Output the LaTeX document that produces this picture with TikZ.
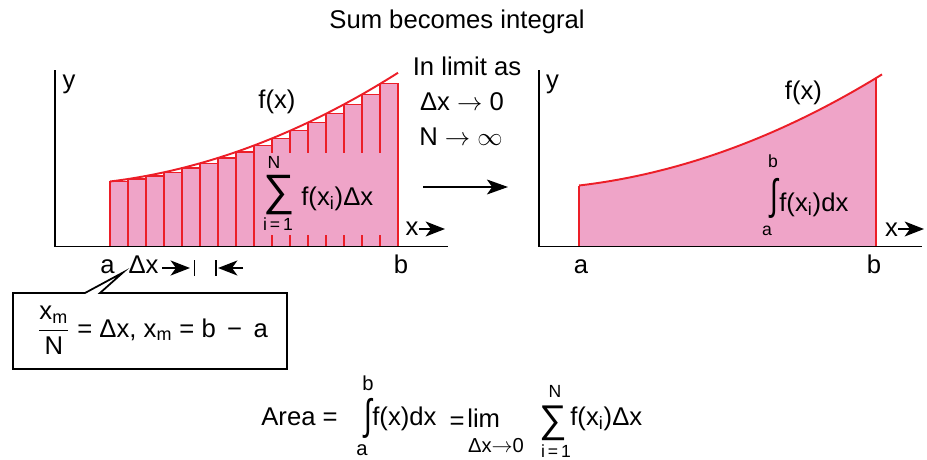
\documentclass[tikz,border=0pt]{standalone}
\usepackage{fontspec}
\setmainfont{Liberation Sans}
\usetikzlibrary{arrows.meta}

\definecolor{barpink}{RGB}{239,164,200}
\definecolor{curvered}{RGB}{236,30,40}

\begin{document}
\begin{tikzpicture}[
        x=0.02cm, y=-0.02cm,
        declare function={hl(\t)=65+0.1226*\t+0.000885*\t*\t; hr(\t)=61+0.117*\t+0.00082*\t*\t;},
        txt/.style={font=\fontsize{14.6}{17}\selectfont, inner sep=0pt},
        limtxt/.style={font=\fontsize{10}{12}\selectfont, inner sep=0pt},
        biglim/.style={font=\fontsize{11.5}{13}\selectfont, inner sep=0pt},
        sumsign/.style={font=\fontsize{25}{27}\selectfont, inner sep=0pt},
        intsign/.style={font=\fontsize{14.6}{17}\selectfont, inner sep=0pt},
        axis/.style={line width=1pt},
        bar/.style={draw=curvered, fill=barpink, line width=0.7pt},
        curve/.style={draw=curvered, line width=1.1pt},
        pointer/.style={-{Stealth[length=11pt, width=8.5pt, inset=3pt]}, line width=1.2pt}
    ]
    \useasboundingbox (0,0) rectangle (927,460);

    % Title
    \node[txt, anchor=base] (title) at (457,28) {Sum becomes integral};

    % Left diagram - sum of strips
    \foreach \i in {0,...,15}{
        \pgfmathsetmacro{\barx}{18*\i}
        \draw[bar] ({110+\barx},246.5) rectangle ({128+\barx},{246.5-hl(\barx)});
    }
    \fill[barpink] (256,153) rectangle (396,235);
    \draw[curve] plot[domain=0:288, samples=50] ({110+\x},{246.5-hl(\x)});
    \draw[axis] (55,70) -- (55,246.5) -- (448,246.5);

    \node[txt, anchor=base] (yl) at (69,88) {y};
    \node[txt, anchor=base] (fxl) at (277,108) {f(x)};
    \node[limtxt, anchor=base] (ntop) at (274,168) {N};
    \node[sumsign] (sigl) at (279.5,195) {∑};
    \node[limtxt, anchor=base] (ibot) at (278,230) {i\,=\,1};
    \node[txt, anchor=base west] (sumterm) at (301,205) {f(x\textsubscript{i})Δx};

    \node[txt, anchor=base] (xl) at (412,235) {x};
    \coordinate (xlend) at (445,229);
    \draw[pointer] (xl.east |- xlend) -- (xlend);

    \node[txt, anchor=base] (al) at (107.5,273) {a};
    \node[txt, anchor=base] (dxl) at (143.5,273) {Δx};
    \node[txt, anchor=base] (bl) at (401,273) {b};
    \coordinate (dxtail) at (162,268);
    \coordinate (dxtip) at (190,268);
    \coordinate (dxtail2) at (243,268);
    \coordinate (dxtip2) at (218,268);
    \draw[pointer] (dxtail) -- (dxtip);
    \draw[pointer] (dxtail2) -- (dxtip2);
    \draw[line width=1.1pt] (194.5,260) -- (194.5,276);
    \draw[line width=1.1pt] (216,260) -- (216,276);

    % callout
    \draw[axis] (13,293) -- (85,293) -- (123,272.5) -- (100,293) -- (287,293) -- (287,369) -- (13,369) -- cycle;
    \node[txt, anchor=base west] (ratio) at (37,337)
        {$\displaystyle\frac{\mbox{x\textsubscript{m}}}{\mbox{N}}$ = Δx, x\textsubscript{m} = b \,−\, a};

    % In the limit
    \node[txt, anchor=base] (lim1) at (467,75) {In limit as};
    \node[txt, anchor=base] (lim2) at (462,110) {Δx $\to$ 0};
    \node[txt, anchor=base] (lim3) at (461,145) {N $\to$ $\infty$};
    \coordinate (arrowtail) at (423,187);
    \coordinate (arrowhead) at (508,187);
    \draw[-{Stealth[length=12pt, width=8.5pt, inset=3pt]}, line width=1pt] (arrowtail) -- (arrowhead);

    % Right diagram - integral
    \fill[barpink] (579,246.5) -- plot[domain=0:297, samples=50] ({579+\x},{246.5-hr(\x)}) -- (876,246.5) -- cycle;
    \draw[curve] (579,246.5) -- (579,{246.5-hr(0)});
    \draw[curve] (876,246.5) -- (876,{246.5-hr(297)});
    \draw[curve] plot[domain=0:303, samples=50] ({579+\x},{246.5-hr(\x)});
    \draw[axis] (539,70) -- (539,246.5) -- (922,246.5);

    \node[txt, anchor=base] (yr) at (552.5,88) {y};
    \node[txt, anchor=base] (fxr) at (803.5,99) {f(x)};
    \node[limtxt, anchor=base] (btop) at (773,167) {b};
    \node[intsign] (intr) at (774,198.5) {\scalebox{1.1}[1.65]{∫}};
    \node[limtxt, anchor=base] (abot) at (767,235) {a};
    \node[txt, anchor=base west] (intterm) at (779,211) {f(x\textsubscript{i})dx};

    \node[txt, anchor=base] (xr) at (891.5,236) {x};
    \coordinate (xrend) at (924,229);
    \draw[pointer] (xr.east |- xrend) -- (xrend);

    \node[txt, anchor=base] (ar) at (581,273) {a};
    \node[txt, anchor=base] (br) at (874,273) {b};

    % Area formula
    \node[txt, anchor=base] (area) at (299.5,425) {Area =};
    \node[biglim, anchor=base] (bb) at (368,390) {b};
    \node[intsign] (intb) at (368,418) {\scalebox{1.1}[1.65]{∫}};
    \node[biglim, anchor=base] (ab) at (362,455) {a};
    \node[txt, anchor=base west] (fdx) at (372,425) {f(x)dx};
    \node[txt, anchor=base] (eq2) at (457,429) {=};
    \node[txt, anchor=base west] (limw) at (467,427) {lim};
    \node[biglim, anchor=base] (dxz) at (496,452) {Δx$\to$0};
    \node[limtxt, anchor=base] (nb) at (555,397) {N};
    \node[sumsign, font=\fontsize{22}{24}\selectfont] (sigb) at (553,423.5) {∑};
    \node[limtxt, anchor=base] (ib) at (556,457) {i\,=\,1};
    \node[txt, anchor=base west] (sumb) at (570,425) {f(x\textsubscript{i})Δx};
\end{tikzpicture}
\end{document}
